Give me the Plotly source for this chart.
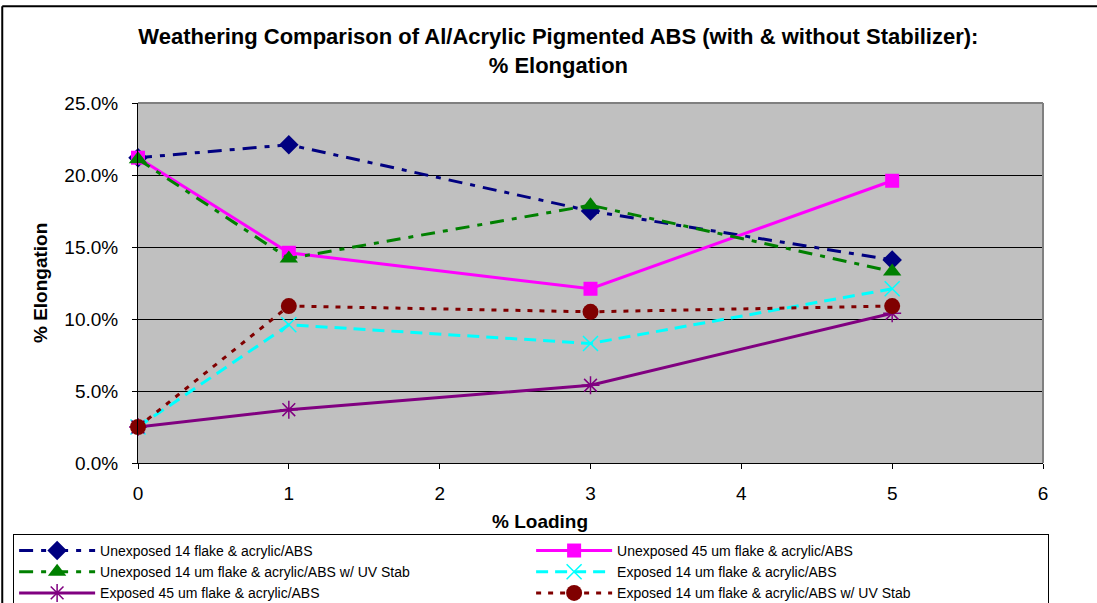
import plotly.graph_objects as go

# % loading levels (x) and % elongation readings (y, as fractions)
loading = [0, 1, 3, 5]

unexp_14 = [0.212, 0.221, 0.175, 0.141]
unexp_45 = [0.212, 0.146, 0.121, 0.196]
unexp_14_uv = [0.211, 0.142, 0.179, 0.133]
exp_14 = [0.025, 0.096, 0.083, 0.121]
exp_45 = [0.025, 0.037, 0.054, 0.104]
exp_14_uv = [0.025, 0.109, 0.105, 0.109]

names = [
    "Unexposed 14 flake & acrylic/ABS",
    "Unexposed 45 um flake & acrylic/ABS",
    "Unexposed 14 um flake & acrylic/ABS w/ UV Stab",
    "Exposed 14 um flake & acrylic/ABS",
    "Exposed 45 um flake & acrylic/ABS",
    "Exposed 14 um flake & acrylic/ABS w/ UV Stab",
]
y_ticks = [0.0, 0.05, 0.10, 0.15, 0.20, 0.25]
y_tick_text = ["0.0%", "5.0%", "10.0%", "15.0%", "20.0%", "25.0%"]
x_ticks = [0, 1, 2, 3, 4, 5, 6]

FONT = "Arial, Liberation Sans, sans-serif"

styles = [
    dict(series=unexp_14, color="#000080", dash="14px,8px,5px,8px",
         marker=dict(symbol="diamond", size=15)),
    dict(series=unexp_45, color="#FF00FF", dash="solid",
         marker=dict(symbol="square", size=14)),
    dict(series=unexp_14_uv, color="#008000", dash="14px,8px,5px,8px",
         marker=dict(symbol="triangle-up", size=16)),
    dict(series=exp_14, color="#00FFFF", dash="12px,7px",
         marker=dict(symbol="x-thin-open", size=15, line=dict(width=1.5, color="#00FFFF"))),
    dict(series=exp_45, color="#800080", dash="solid",
         marker=dict(symbol="asterisk-open", size=15, line=dict(width=1.5, color="#800080"))),
    dict(series=exp_14_uv, color="#800000", dash="5px,7px",
         marker=dict(symbol="circle", size=16)),
]

fig = go.Figure()
for name, st in zip(names, styles):
    mk = dict(st["marker"])
    mk.setdefault("color", st["color"])
    fig.add_trace(go.Scatter(
        x=loading, y=st["series"], name=name, mode="lines+markers",
        line=dict(color=st["color"], width=3, dash=st["dash"]),
        marker=mk, cliponaxis=False,
    ))

fig.update_layout(
    width=1097, height=603,
    margin=dict(l=138, r=54, t=103, b=140, autoexpand=False),
    paper_bgcolor="white",
    plot_bgcolor="#C0C0C0",
    font=dict(family=FONT, size=19, color="black"),
    title=dict(
        text="Weathering Comparison of Al/Acrylic Pigmented ABS (with & without Stabilizer):<br>% Elongation",
        x=0.509, xanchor="center", y=0.927, yanchor="middle",
        font=dict(family=FONT, size=22, color="black", weight="bold"),
    ),
    showlegend=True,
    legend=dict(
        orientation="h", x=-0.138, xanchor="left", y=-0.197, yanchor="top",
        entrywidth=426, entrywidthmode="pixels",
        bordercolor="black", borderwidth=1, bgcolor="white",
        font=dict(family=FONT, size=14, color="black"),
        itemwidth=76, tracegroupgap=0,
    ),
)

fig.update_xaxes(
    range=[0, 6], tickvals=x_ticks, showgrid=False, zeroline=False,
    showline=True, linecolor="black", linewidth=1, mirror=False,
    ticks="outside", ticklen=5, tickcolor="black", ticklabelstandoff=8,
    tickfont=dict(family=FONT, size=19),
)
fig.update_yaxes(
    range=[0, 0.25], tickvals=y_ticks, ticktext=y_tick_text,
    showgrid=True, gridcolor="black", gridwidth=1, zeroline=False,
    showline=True, linecolor="black", linewidth=1,
    ticks="outside", ticklen=5, tickcolor="black", ticklabelstandoff=10,
    tickfont=dict(family=FONT, size=19),
)

# grey frame along the top and right of the plotting area
fig.add_shape(type="line", xref="paper", yref="paper", x0=0, x1=1, y0=1, y1=1,
              line=dict(color="#808080", width=2))
fig.add_shape(type="line", xref="paper", yref="paper", x0=1, x1=1, y0=0, y1=1,
              line=dict(color="#808080", width=2))

# outer chart border
fig.add_shape(type="line", xref="paper", yref="paper", x0=-0.150, x1=1.1, y0=1.269, y1=1.269,
              line=dict(color="black", width=2))
fig.add_shape(type="line", xref="paper", yref="paper", x0=-0.150, x1=-0.150, y0=-0.4, y1=1.269,
              line=dict(color="black", width=2))

# axis titles
fig.add_annotation(text="% Loading", xref="paper", yref="paper",
                   x=(540 - 138) / 905, y=(463 - 521) / 360, showarrow=False,
                   xanchor="center", yanchor="middle",
                   font=dict(family=FONT, size=19, weight="bold"))
fig.add_annotation(text="% Elongation", xref="paper", yref="paper",
                   x=(40 - 138) / 905, y=0.5, showarrow=False, textangle=-90,
                   xanchor="center", yanchor="middle",
                   font=dict(family=FONT, size=19, weight="bold"))

fig.write_html("out.html")
